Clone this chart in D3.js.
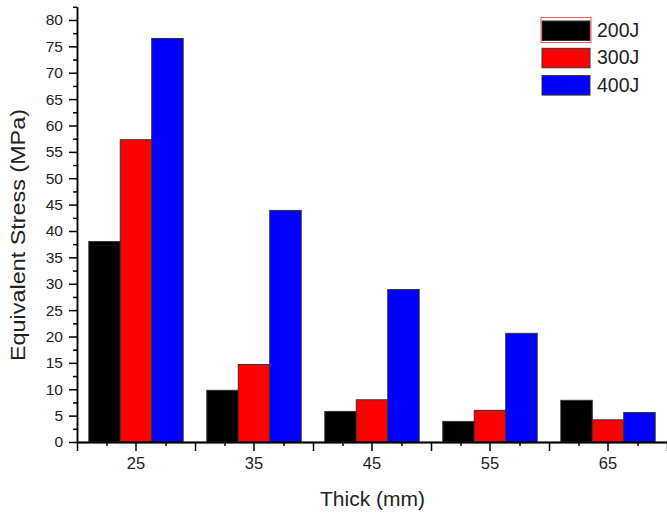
<!DOCTYPE html>
<html>
<head>
<meta charset="utf-8">
<script src="https://cdn.jsdelivr.net/npm/d3@7"></script>
<style>
  html, body { margin: 0; padding: 0; background: #fff; }
  svg { display: block; font-family: "Liberation Sans", Arial, sans-serif; }
  .axis path, .axis line { stroke: #000; stroke-width: 1.5px; }
  .axis text { fill: #222; }
</style>
</head>
<body>
<svg id="chart" width="667" height="513"></svg>
<script>
// data
const thickness = ['25', '35', '45', '55', '65'];
const energies = ['200J', '300J', '400J'];
const stress200 = [38.0, 9.8, 5.8, 3.9, 7.9];
const stress300 = [57.3, 14.7, 8.0, 6.0, 4.2];
const stress400 = [76.5, 43.9, 28.9, 20.6, 5.6];
const yTicks = [0, 5, 10, 15, 20, 25, 30, 35, 40, 45, 50, 55, 60, 65, 70, 75, 80];
const colors = ['#000000', '#ff0000', '#0000ff'];

const seriesValues = [stress200, stress300, stress400];

const svg = d3.select('#chart');
const plotLeft = 77, plotRight = 667, plotTop = 6.8, plotBottom = 442;

const x = d3.scaleBand()
  .domain(thickness)
  .range([plotLeft, plotRight])
  .padding(0);

// group of 3 bars takes 80% of a category
const xSub = d3.scaleBand()
  .domain(energies)
  .range([x.bandwidth() * 0.1, x.bandwidth() * 0.9])
  .padding(0);

const y = d3.scaleLinear()
  .domain([0, 82.5])
  .range([plotBottom, plotTop]);

// bars
const groups = svg.append('g')
  .selectAll('g')
  .data(thickness)
  .join('g')
  .attr('transform', d => `translate(${x(d)},0)`);

groups.selectAll('rect')
  .data((d, i) => energies.map((e, s) => ({ e: e, v: seriesValues[s][i], c: colors[s] })))
  .join('rect')
  .attr('x', d => xSub(d.e))
  .attr('y', d => y(d.v))
  .attr('width', xSub.bandwidth())
  .attr('height', d => y(0) - y(d.v))
  .attr('fill', d => d.c)
  .attr('stroke', '#333')
  .attr('stroke-width', 1);

// y axis: minor ticks then major ticks with labels
svg.append('g')
  .attr('class', 'axis')
  .attr('transform', `translate(${plotLeft},0)`)
  .call(d3.axisLeft(y).tickValues(d3.range(2.5, 83, 5)).tickSize(4).tickSizeOuter(0).tickFormat(''));

svg.append('g')
  .attr('class', 'axis')
  .attr('transform', `translate(${plotLeft},0)`)
  .call(d3.axisLeft(y).tickValues(yTicks).tickSize(8).tickPadding(6).tickSizeOuter(0))
  .call(g => g.selectAll('text').style('font-size', '15.5px'));

// x axis: boundaries and quarter ticks from a linear index scale
const xi = d3.scaleLinear().domain([0, thickness.length]).range([plotLeft, plotRight]);

svg.append('g')
  .attr('class', 'axis')
  .attr('transform', `translate(0,${plotBottom})`)
  .call(d3.axisBottom(xi).tickValues(d3.range(0.25, 5, 0.5)).tickSize(4).tickSizeOuter(0).tickFormat(''));

svg.append('g')
  .attr('class', 'axis')
  .attr('transform', `translate(0,${plotBottom})`)
  .call(d3.axisBottom(xi).tickValues(d3.range(0, 5.01, 1)).tickSize(9).tickSizeOuter(0).tickFormat(''));

svg.append('g')
  .attr('class', 'axis')
  .attr('transform', `translate(0,${plotBottom})`)
  .call(d3.axisBottom(x).tickSize(9).tickPadding(6).tickSizeOuter(0))
  .call(g => g.selectAll('text').style('font-size', '16.5px'));

// axis titles
svg.append('text')
  .attr('x', 372.5)
  .attr('y', 506)
  .attr('text-anchor', 'middle')
  .style('font-size', '21px')
  .attr('fill', '#222')
  .text('Thick (mm)');

svg.append('text')
  .attr('transform', 'translate(25,235) rotate(-90)')
  .attr('text-anchor', 'middle')
  .style('font-size', '21px')
  .attr('textLength', 252)
  .attr('lengthAdjust', 'spacingAndGlyphs')
  .attr('fill', '#222')
  .text('Equivalent Stress (MPa)');

// legend
const legend = svg.append('g')
  .selectAll('g')
  .data(energies)
  .join('g')
  .attr('transform', (d, i) => `translate(542,${21 + i * 27.3})`);

legend.append('rect')
  .attr('width', 48)
  .attr('height', 19.5)
  .attr('fill', (d, i) => colors[i])
  .attr('stroke', '#333')
  .attr('stroke-width', 1);

legend.append('text')
  .attr('x', 55)
  .attr('y', 16)
  .style('font-size', '19.5px')
  .attr('fill', '#222')
  .text(d => d);

// selection outline around the first legend key
svg.append('rect')
  .attr('x', 541)
  .attr('y', 17.5)
  .attr('width', 50)
  .attr('height', 25)
  .attr('fill', 'none')
  .attr('stroke', '#f55')
  .attr('stroke-width', 1);
</script>
</body>
</html>
